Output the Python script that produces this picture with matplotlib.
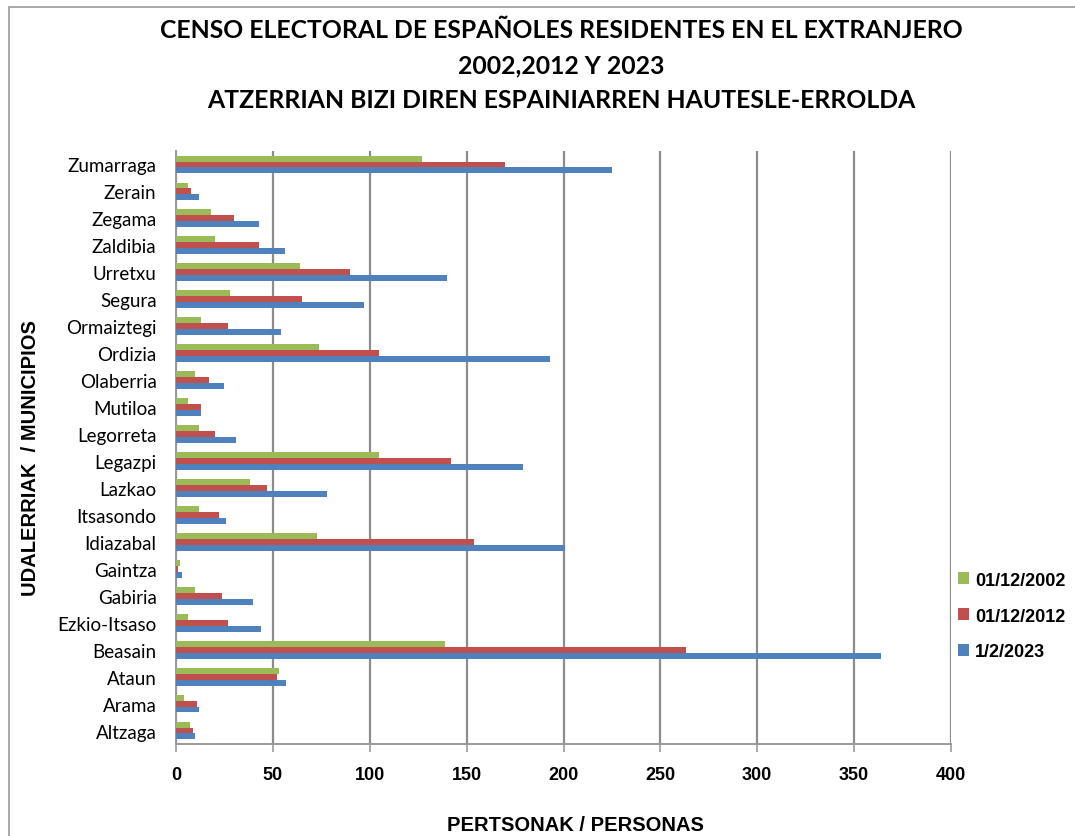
import numpy as np
import matplotlib.pyplot as plt
from matplotlib.patches import Rectangle

municipios = ['Altzaga', 'Arama', 'Ataun', 'Beasain', 'Ezkio-Itsaso', 'Gabiria',
              'Gaintza', 'Idiazabal', 'Itsasondo', 'Lazkao', 'Legazpi', 'Legorreta',
              'Mutiloa', 'Olaberria', 'Ordizia', 'Ormaiztegi', 'Segura', 'Urretxu',
              'Zaldibia', 'Zegama', 'Zerain', 'Zumarraga']

censo_2002 = [7, 4, 53, 139, 6, 10, 2, 73, 12, 38, 105, 12,
              6, 10, 74, 13, 28, 64, 20, 18, 6, 127]
censo_2012 = [9, 11, 52, 263, 27, 24, 1, 154, 22, 47, 142, 20,
              13, 17, 105, 27, 65, 90, 43, 30, 8, 170]
censo_2023 = [10, 12, 57, 364, 44, 40, 3, 201, 26, 78, 179, 31,
              13, 25, 193, 54, 97, 140, 56, 43, 12, 225]

series_labels = ['01/12/2002', '01/12/2012', '1/2/2023']
colors = ['#9BBB59', '#C0504D', '#4F81BD']

fig = plt.figure(figsize=(10.75, 8.37), dpi=100)
ax = fig.add_axes([176 / 1075, 1 - 745 / 837, 775 / 1075, 593 / 837])

# frame round the chart area
fig.patches.append(Rectangle((9 / 1075, -0.05), 1.2, 1 - 8 / 837 + 0.05,
                             transform=fig.transFigure, fill=False,
                             edgecolor='#9a9a9a', linewidth=1.2))

index = np.arange(len(municipios))
h = 0.22
ax.barh(index + h, censo_2002, h, color=colors[0], label=series_labels[0], zorder=3)
ax.barh(index, censo_2012, h, color=colors[1], label=series_labels[1], zorder=3)
ax.barh(index - h, censo_2023, h, color=colors[2], label=series_labels[2], zorder=3)

ax.set_xlim(0, 400)
ax.set_ylim(-0.5, len(municipios) - 0.5)
ax.set_xticks(np.arange(0, 401, 50))
ax.set_yticks(index)
ax.set_yticklabels(municipios, fontsize=13.5, family='Lato')
ax.tick_params(axis='y', length=0, pad=14)
ax.tick_params(axis='x', length=6, width=1.2, color='#9a9a9a', pad=10)
for lab in ax.get_xticklabels():
    lab.set_fontfamily('Liberation Sans')
    lab.set_fontweight('bold')
    lab.set_fontsize(13)

ax.xaxis.grid(True, color='#8c8c8c', linewidth=1.6, zorder=0)
for s in ['top', 'right']:
    ax.spines[s].set_visible(False)
for s in ['left', 'bottom']:
    ax.spines[s].set_color('#9a9a9a')
    ax.spines[s].set_linewidth(1.4)

fig.text(0.5225, 1 - 30 / 837, 'CENSO ELECTORAL DE ESPAÑOLES RESIDENTES EN EL EXTRANJERO',
         ha='center', va='center', fontsize=17.8, fontweight='bold', family='Lato')
fig.text(0.5225, 1 - 66 / 837, '2002,2012 Y 2023',
         ha='center', va='center', fontsize=17.8, fontweight='bold', family='Lato')
fig.text(0.5225, 1 - 101 / 837, 'ATZERRIAN BIZI DIREN ESPAINIARREN HAUTESLE-ERROLDA',
         ha='center', va='center', fontsize=17.8, fontweight='bold', family='Lato')

fig.text(575 / 1075, 1 - 826 / 837, 'PERTSONAK / PERSONAS', ha='center', va='center',
         fontsize=14.5, fontweight='bold', family='Liberation Sans')
fig.text(31 / 1075, 1 - 458 / 837, 'UDALERRIAK  / MUNICIPIOS', ha='center', va='center',
         rotation=90, fontsize=14.5, fontweight='bold', family='Liberation Sans')

handles, labels = ax.get_legend_handles_labels()
leg = fig.legend(handles, labels, loc='center left',
                 bbox_to_anchor=(947 / 1075, 1 - 617 / 837), frameon=False,
                 prop={'family': 'Liberation Sans', 'weight': 'bold', 'size': 13},
                 handlelength=0.6, handleheight=0.6, handletextpad=0.35,
                 labelspacing=1.05, borderaxespad=0.2)

plt.savefig('out.png', dpi=100)
